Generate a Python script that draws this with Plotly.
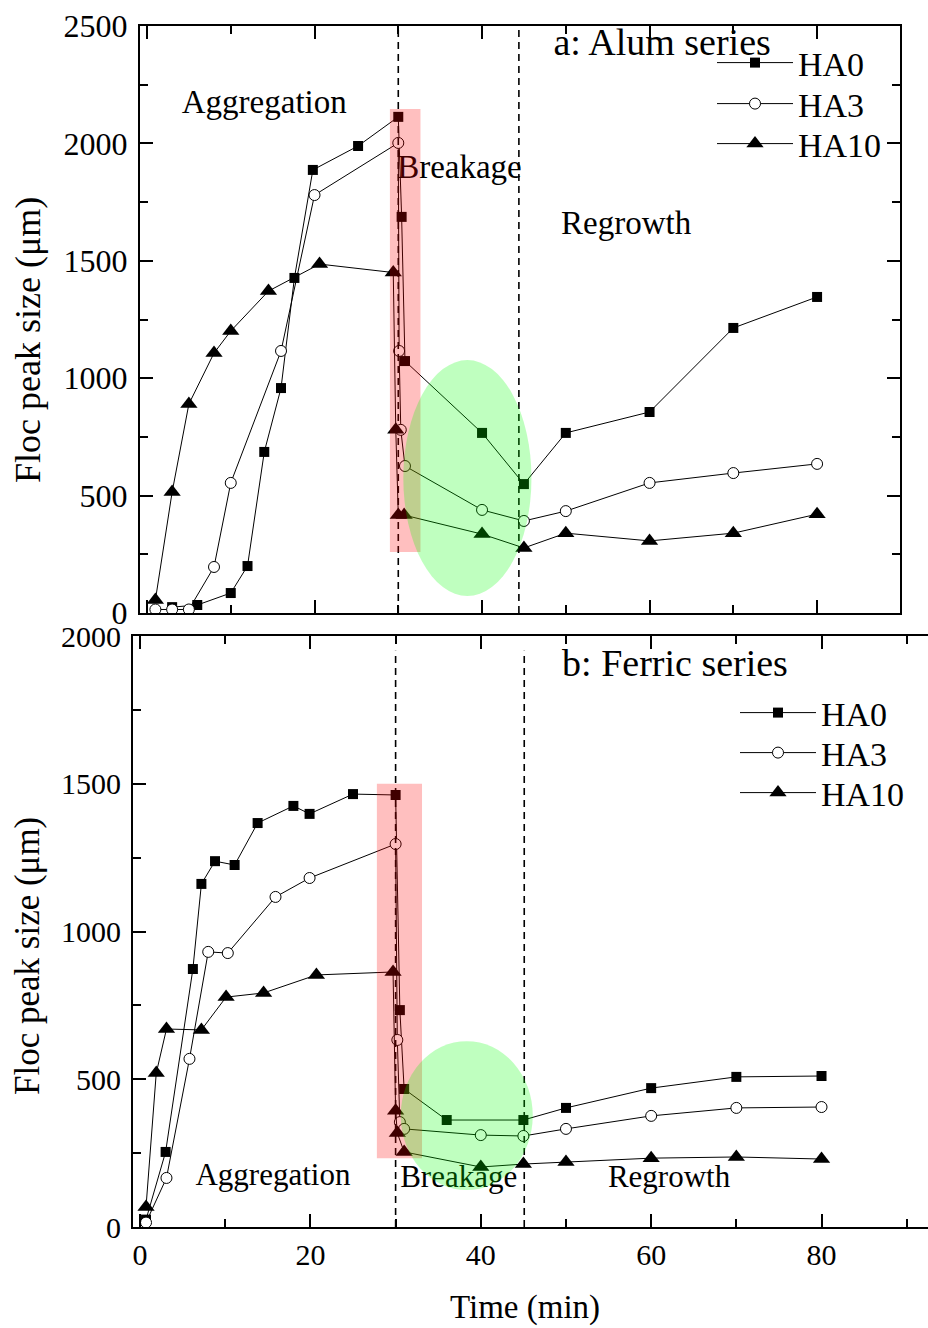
import plotly.graph_objects as go

# ---------------- data ----------------
# Panel a: Alum series  (time in min, floc peak size in um)
alum_ha0_t = [3, 6, 10, 12, 14, 16, 17.6, 19.8, 25.2, 30, 30.4, 30.8, 40, 45, 50, 60, 70, 80]
alum_ha0_v = [25, 34, 85, 200, 686, 958, 1427, 1887, 1989, 2113, 1687, 1073, 767, 549, 767, 856, 1214, 1346]
alum_ha3_t = [1, 3, 5, 8, 10, 16, 20, 30, 30.1, 30.3, 30.8, 40, 45, 50, 60, 70, 80]
alum_ha3_v = [15, 15, 15, 196, 554, 1116, 1780, 2002, 1116, 780, 626, 439, 392, 434, 554, 596, 635]
alum_ha10_t = [1, 3, 5, 8, 10, 14.5, 20.6, 29.4, 29.7, 30, 30.7, 40, 45, 50, 60, 70, 80]
alum_ha10_v = [55, 515, 890, 1107, 1201, 1371, 1486, 1450, 780, 417, 417, 336, 277, 340, 307, 340, 421]

# Panel b: Ferric series
ferric_ha0_t = [0.7, 3, 6.2, 7.2, 8.8, 11.1, 13.8, 18, 19.9, 25, 30, 30.5, 31, 36, 45, 50, 60, 70, 80]
ferric_ha0_v = [25, 254, 873, 1161, 1238, 1225, 1367, 1425, 1398, 1465, 1462, 734, 467, 362, 362, 403, 470, 508, 511]
ferric_ha3_t = [0.7, 3.1, 5.8, 8, 10.3, 15.9, 19.9, 30, 30.2, 30.5, 31, 40, 45, 50, 60, 70, 80]
ferric_ha3_v = [15, 166, 569, 931, 927, 1117, 1181, 1296, 633, 355, 332, 311, 308, 332, 376, 403, 406]
ferric_ha10_t = [0.7, 1.9, 3.1, 7.2, 10.1, 14.5, 20.7, 29.7, 30, 30.2, 31, 40, 45, 50, 60, 70, 80]
ferric_ha10_v = [68, 521, 670, 667, 778, 792, 853, 863, 393, 318, 254, 203, 213, 220, 233, 237, 230]

series_names = ["HA0", "HA3", "HA10"]
alum_labels = ["Aggregation", "Breakage", "Regrowth", "a: Alum series"]
ferric_labels = ["b: Ferric series", "Aggregation", "Breakage", "Regrowth"]

x_ticks = [0, 20, 40, 60, 80]

FONT = "Liberation Serif"
W, H = 928, 1328


def px_x(p):
    return p / W


def px_y(p):
    return 1 - p / H


markers = [
    dict(symbol="square", size=10, color="black"),
    dict(symbol="circle", size=11, color="white", line=dict(color="black", width=1)),
    dict(symbol="triangle-up", size=15, color="black"),
]

fig = go.Figure()

alum = [(alum_ha0_t, alum_ha0_v), (alum_ha3_t, alum_ha3_v), (alum_ha10_t, alum_ha10_v)]
ferric = [(ferric_ha0_t, ferric_ha0_v), (ferric_ha3_t, ferric_ha3_v), (ferric_ha10_t, ferric_ha10_v)]

for i, (t, v) in enumerate(alum):
    fig.add_trace(go.Scatter(
        x=t, y=v, mode="lines+markers", name=series_names[i],
        line=dict(color="black", width=1), marker=markers[i],
        xaxis="x", yaxis="y", legend="legend" if i == 0 else f"legend{i + 1}",
    ))
for i, (t, v) in enumerate(ferric):
    fig.add_trace(go.Scatter(
        x=t, y=v, mode="lines+markers", name=series_names[i],
        line=dict(color="black", width=1), marker=markers[i],
        xaxis="x2", yaxis="y2", legend=f"legend{i + 4}",
    ))

# in-plot phase labels (drawn as text traces so the tinted regions overlay them)
alum_label_x = [14.0, 37.3, 57.2, 61.5]
alum_label_y = [2163, 1887, 1648, 2415]
alum_label_size = [33, 33, 33, 38]
for s, xx, yy, fs in zip(alum_labels, alum_label_x, alum_label_y, alum_label_size):
    fig.add_trace(go.Scatter(x=[xx], y=[yy], mode="text", text=[s], textposition="middle center",
                             textfont=dict(family=FONT, size=fs, color="black"),
                             showlegend=False, hoverinfo="skip", xaxis="x", yaxis="y", cliponaxis=False))
ferric_label_x = [62.8, 15.6, 37.4, 62.1]
ferric_label_y = [1898, 169, 162, 162]
ferric_label_size = [38, 31, 31, 31]
for s, xx, yy, fs in zip(ferric_labels, ferric_label_x, ferric_label_y, ferric_label_size):
    fig.add_trace(go.Scatter(x=[xx], y=[yy], mode="text", text=[s], textposition="middle center",
                             textfont=dict(family=FONT, size=fs, color="black"),
                             showlegend=False, hoverinfo="skip", xaxis="x2", yaxis="y2", cliponaxis=False))

shapes = []
# phase boundaries
for xx in [30, 44.4]:
    shapes.append(dict(type="line", xref="x", yref="y", x0=xx, x1=xx, y0=0, y1=2500,
                       line=dict(color="black", width=1.6, dash="7px,5px"), layer="above"))
for xx in [30, 45.1]:
    shapes.append(dict(type="line", xref="x2", yref="y2", x0=xx, x1=xx, y0=0, y1=1950,
                       line=dict(color="black", width=1.6, dash="7px,5px"), layer="above"))
# highlighted regions
shapes.append(dict(type="rect", xref="x", yref="y", x0=29.0, x1=32.65, y0=260, y1=2147,
                   fillcolor="rgba(255,0,0,0.25)", line=dict(width=0), layer="above"))
shapes.append(dict(type="circle", xref="x", yref="y", x0=30.6, x1=45.9, y0=72, y1=1077,
                   fillcolor="rgba(0,255,0,0.25)", line=dict(width=0), layer="above"))
shapes.append(dict(type="rect", xref="x2", yref="y2", x0=27.8, x1=33.1, y0=233, y1=1500,
                   fillcolor="rgba(255,0,0,0.25)", line=dict(width=0), layer="above"))
shapes.append(dict(type="circle", xref="x2", yref="y2", x0=30.6, x1=46.1, y0=125, y1=629,
                   fillcolor="rgba(0,255,0,0.25)", line=dict(width=0), layer="above"))

axis_common = dict(showgrid=False, zeroline=False, showline=True, linecolor="black", linewidth=2,
                   ticks="inside", ticklen=13, tickwidth=2, tickcolor="black", automargin=False,
                   tickfont=dict(family=FONT, size=32, color="black"))

layout = dict(
    width=W, height=H, margin=dict(l=0, r=0, t=0, b=0, autoexpand=False),
    paper_bgcolor="white", plot_bgcolor="white",
    font=dict(family=FONT, color="black"),
    shapes=shapes,
    xaxis=dict(axis_common, domain=[px_x(140), px_x(900)], range=[-0.836, 89.9], anchor="y",
               tickvals=x_ticks, showticklabels=False, mirror="ticks",
               minor=dict(dtick=10, tick0=0, ticks="inside", ticklen=8, tickwidth=2, tickcolor="black")),
    yaxis=dict(axis_common, domain=[px_y(613), px_y(26)], range=[0, 2500], anchor="x",
               dtick=500, mirror="ticks", ticklabelstandoff=4,
               minor=dict(dtick=250, ticks="inside", ticklen=8, tickwidth=2, tickcolor="black")),
    xaxis2=dict(axis_common, domain=[px_x(133), 1.0], range=[-0.83, 92.5], anchor="y2",
                tickvals=x_ticks, mirror="ticks", tickfont=dict(family=FONT, size=30, color="black"),
                minor=dict(dtick=10, tick0=0, ticks="inside", ticklen=8, tickwidth=2, tickcolor="black")),
    yaxis2=dict(axis_common, domain=[px_y(1227), px_y(636)], range=[0, 2000], anchor="x2",
                dtick=500, mirror=False, tickfont=dict(family=FONT, size=30, color="black"),
                ticklabelstandoff=4,
                minor=dict(dtick=250, ticks="inside", ticklen=8, tickwidth=2, tickcolor="black")),
    annotations=[
        dict(text="Floc peak size (μm)", xref="paper", yref="paper", x=px_x(28), y=px_y(340),
             textangle=-90, showarrow=False, font=dict(family=FONT, size=36, color="black"),
             xanchor="center", yanchor="middle"),
        dict(text="Floc peak size (μm)", xref="paper", yref="paper", x=px_x(27), y=px_y(956),
             textangle=-90, showarrow=False, font=dict(family=FONT, size=35, color="black"),
             xanchor="center", yanchor="middle"),
        dict(text="Time (min)", xref="paper", yref="paper", x=px_x(525), y=px_y(1307),
             showarrow=False, font=dict(family=FONT, size=33, color="black"),
             xanchor="center", yanchor="middle"),
    ],
)

leg_common = dict(font=dict(family=FONT, size=34, color="black"), bgcolor="rgba(0,0,0,0)",
                  xanchor="left", yanchor="middle", itemwidth=76)
top_rows = [63, 104, 144]
bot_rows = [713, 753, 793]
for i, yy in enumerate(top_rows):
    key = "legend" if i == 0 else f"legend{i + 1}"
    layout[key] = dict(leg_common, x=px_x(712), y=px_y(yy))
for i, yy in enumerate(bot_rows):
    layout[f"legend{i + 4}"] = dict(leg_common, x=px_x(735), y=px_y(yy))

fig.update_layout(**layout)
fig.write_html("out.html", config={"displayModeBar": False},
               post_script="document.body.style.margin='0';")
